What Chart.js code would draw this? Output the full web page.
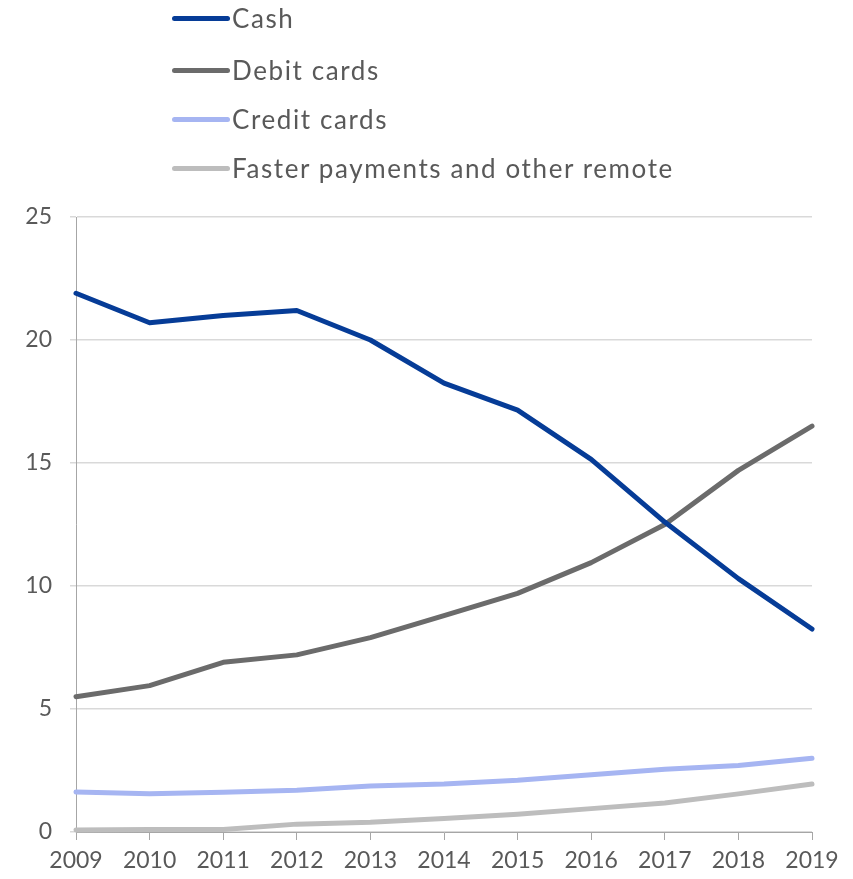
<!DOCTYPE html>
<html>
<head>
<meta charset="utf-8">
<script src="https://cdn.jsdelivr.net/npm/chart.js@4.4.1/dist/chart.umd.min.js"></script>
<style>
  html, body { margin: 0; padding: 0; background: #ffffff; }
  #wrap { position: relative; width: 853px; height: 879px; }
  #chart { position: absolute; left: 0; top: 0; }
  #legend { position: absolute; left: 172px; top: 0; font-family: Lato, sans-serif; font-size: 26px; letter-spacing: 1.6px; color: #595959; }
  .item { position: absolute; left: 0; height: 30px; white-space: nowrap; display: flex; align-items: center; }
  .swatch { width: 58px; height: 5px; border-radius: 3px; margin-right: 2px; }
</style>
</head>
<body>
<div id="wrap">
  <canvas id="chart" width="853" height="879"></canvas>
  <div id="legend"></div>
</div>
<script>
// data
const years = ['2009', '2010', '2011', '2012', '2013', '2014', '2015', '2016', '2017', '2018', '2019'];
const cash = [21.9, 20.7, 21.0, 21.2, 20.0, 18.25, 17.15, 15.15, 12.6, 10.3, 8.25];
const debitCards = [5.5, 5.95, 6.9, 7.2, 7.9, 8.8, 9.7, 10.95, 12.5, 14.7, 16.5];
const creditCards = [1.63, 1.55, 1.62, 1.7, 1.87, 1.95, 2.1, 2.33, 2.55, 2.7, 3.0];
const fasterPayments = [0.08, 0.1, 0.1, 0.32, 0.4, 0.55, 0.72, 0.95, 1.18, 1.55, 1.95];
const seriesNames = ['Cash', 'Debit cards', 'Credit cards', 'Faster payments and other remote'];
const yTicks = [0, 5, 10, 15, 20, 25];

const colors = ['#063c97', '#6b6b6b', '#a6b5f2', '#bdbdbd'];
const allSeries = [cash, debitCards, creditCards, fasterPayments];

const datasets = allSeries.map(function(values, i) {
    return {
        label: seriesNames[i],
        data: values,
        borderColor: colors[i],
        backgroundColor: colors[i],
        borderWidth: 5,
        pointRadius: 0,
        tension: 0,
        borderCapStyle: 'round',
        borderJoinStyle: 'round',
        clip: false
    };
});

// legend as html text, one row per series
const legend = document.getElementById('legend');
const rowCentres = [18, 70, 119, 168];
seriesNames.forEach(function(name, i) {
    const row = document.createElement('div');
    row.className = 'item';
    row.style.top = (rowCentres[i] - 15) + 'px';
    row.innerHTML = '<span class="swatch" style="background:' + colors[i] + '"></span><span>' + name + '</span>';
    legend.appendChild(row);
});

const tickFont = { family: 'Lato, sans-serif', size: 23 };

new Chart(document.getElementById('chart').getContext('2d'), {
    type: 'line',
    data: { labels: years, datasets: datasets },
    options: {
        responsive: false,
        animation: false,
        devicePixelRatio: 1,
        layout: { padding: { top: 217, right: 41, left: 0, bottom: 0 } },
        plugins: { legend: { display: false }, tooltip: { enabled: false } },
        scales: {
            x: {
                offset: false,
                grid: { display: true, drawOnChartArea: false, drawTicks: true, tickLength: 8, color: '#a6a6a6', lineWidth: 1 },
                border: { display: true, color: '#a6a6a6', width: 1 },
                ticks: { color: '#595959', font: tickFont, padding: 7, maxRotation: 0, autoSkip: false },
                afterFit: function(scale) { scale.height = 47; }
            },
            y: {
                min: 0,
                max: 25,
                afterBuildTicks: function(scale) {
                    scale.ticks = yTicks.map(function(v) { return { value: v }; });
                },
                grid: { color: '#d9d9d9', lineWidth: 1.5, drawTicks: true, tickLength: 6 },
                border: { display: true, color: '#a6a6a6', width: 1 },
                ticks: { color: '#595959', font: tickFont, padding: 18 },
                afterFit: function(scale) { scale.width = 76; }
            }
        }
    }
});
</script>
</body>
</html>
